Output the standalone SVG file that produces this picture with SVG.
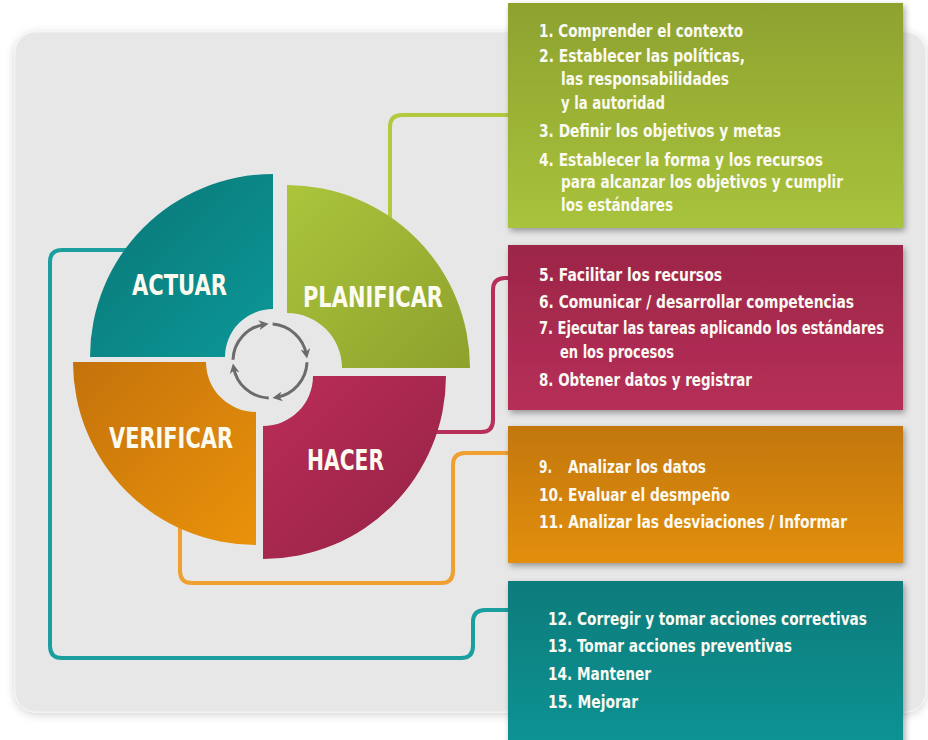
<svg xmlns="http://www.w3.org/2000/svg" width="928" height="740" viewBox="0 0 928 740">
<defs>
<style>
.q{font-family:"Liberation Sans Narrow","DejaVu Sans Condensed","Liberation Sans",sans-serif;font-weight:bold;font-size:29px;fill:#fdfbf0}
.t{font-family:"Liberation Sans Narrow","DejaVu Sans Condensed","Liberation Sans",sans-serif;font-weight:bold;font-size:17px;fill:#fbfaf2}
.c{fill:none;stroke-width:4;stroke-linecap:round;stroke-linejoin:round}
.ic{fill:none;stroke:#6b6b6b;stroke-width:3}
</style>
<filter id="sh" x="-5%" y="-5%" width="112%" height="115%">
<feDropShadow dx="2" dy="3" stdDeviation="3" flood-color="#000" flood-opacity="0.35"/>
</filter>
<filter id="psh" x="-5%" y="-5%" width="110%" height="110%">
<feDropShadow dx="0" dy="2" stdDeviation="5" flood-color="#000" flood-opacity="0.18"/>
</filter>
<linearGradient id="gBox" x1="0" y1="0" x2="0" y2="1"><stop offset="0" stop-color="#8ea22f"/><stop offset="1" stop-color="#a8c33c"/></linearGradient>
<linearGradient id="rBox" x1="0" y1="0" x2="0" y2="1"><stop offset="0" stop-color="#9c2648"/><stop offset="1" stop-color="#b62f58"/></linearGradient>
<linearGradient id="oBox" x1="0" y1="0" x2="0" y2="1"><stop offset="0" stop-color="#c27709"/><stop offset="1" stop-color="#e38f0b"/></linearGradient>
<linearGradient id="tBox" x1="0" y1="0" x2="0" y2="1"><stop offset="0" stop-color="#0b7b7b"/><stop offset="1" stop-color="#119494"/></linearGradient>
<linearGradient id="tQ" x1="0" y1="0" x2="1" y2="1"><stop offset="0" stop-color="#0a7575"/><stop offset="1" stop-color="#0c9898"/></linearGradient>
<linearGradient id="gQ" x1="0" y1="0" x2="1" y2="1"><stop offset="0" stop-color="#abc53c"/><stop offset="1" stop-color="#8da12c"/></linearGradient>
<linearGradient id="oQ" x1="0" y1="0" x2="1" y2="1"><stop offset="0" stop-color="#c4720c"/><stop offset="1" stop-color="#ea920a"/></linearGradient>
<linearGradient id="rQ" x1="0" y1="0" x2="1" y2="1"><stop offset="0" stop-color="#bb2d57"/><stop offset="1" stop-color="#942246"/></linearGradient>
<marker id="ah" viewBox="0 0 10 10" refX="6" refY="5" markerWidth="3.3" markerHeight="3.3" orient="auto" markerUnits="strokeWidth">
<path d="M0,0 L10,5 L0,10 L3,5 z" fill="#6b6b6b"/>
</marker>
</defs>
<rect width="928" height="740" fill="#ffffff"/>
<rect id="panel" x="15" y="32" width="911" height="680" rx="21" fill="#e7e7e7" stroke="#f4f4f4" stroke-width="1" filter="url(#psh)"/>

<g id="connectors">
<path class="c" stroke="#b3ca3f" stroke-width="3" d="M510,115 H402 Q390,115 390,127 V230"/>
<path class="c" stroke="#b8305a" d="M510,278 H505 Q493,278 493,290 V420 Q493,432 481,432 H430"/>
<path class="c" stroke="#efa030" d="M510,453 H465 Q453,453 453,465 V571 Q453,583 441,583 H192 Q180,583 180,571 V520"/>
<path class="c" stroke="#1a9e9e" d="M130,250 H62 Q50,250 50,262 V646 Q50,658 62,658 H461 Q473,658 473,646 V622 Q473,610 485,610 H510"/>
</g>

<g id="actuar">
<path fill="url(#tQ)" d="M90,357 A183,183 0 0 1 273,174 L273,309 A48,48 0 0 0 225,357 Z"/>
<text class="q" x="132" y="295" textLength="95" lengthAdjust="spacingAndGlyphs">ACTUAR</text>
</g>
<g id="planificar">
<path fill="url(#gQ)" d="M287,185 A183,183 0 0 1 470,368 L342,368 A55,55 0 0 0 287,313 Z"/>
<text class="q" x="303" y="307" textLength="140" lengthAdjust="spacingAndGlyphs">PLANIFICAR</text>
</g>
<g id="hacer">
<path fill="url(#rQ)" d="M446,376 A183,183 0 0 1 263,559 L263,426 A50,50 0 0 0 313,376 Z"/>
<text class="q" x="307" y="470" textLength="77" lengthAdjust="spacingAndGlyphs">HACER</text>
</g>
<g id="verificar">
<path fill="url(#oQ)" d="M256,545 A183,183 0 0 1 73,362 L206,362 A50,50 0 0 0 256,412 Z"/>
<text class="q" x="109" y="448" textLength="124" lengthAdjust="spacingAndGlyphs">VERIFICAR</text>
</g>

<g id="cycle-icon">
<path class="ic" marker-end="url(#ah)" d="M233.0,359.7 A37,37 0 0 1 264.8,324.4"/>
<path class="ic" marker-end="url(#ah)" d="M272.6,324.1 A37,37 0 0 1 306.4,354.6"/>
<path class="ic" marker-end="url(#ah)" d="M307.0,362.3 A37,37 0 0 1 276.4,397.4"/>
<path class="ic" marker-end="url(#ah)" d="M268.7,398.0 A37,37 0 0 1 233.6,367.4"/>
</g>

<g id="box-planificar">
<rect x="508" y="3" width="395" height="225" fill="url(#gBox)" filter="url(#sh)"/>
<g transform="scale(0.8,1)">
<text class="t" x="673.75" y="37" textLength="255" lengthAdjust="spacingAndGlyphs">1. Comprender el contexto</text>
<text class="t" x="673.75" y="62" textLength="257.5" lengthAdjust="spacingAndGlyphs">2. Establecer las políticas,</text>
<text class="t" x="701.25" y="85" textLength="210" lengthAdjust="spacingAndGlyphs">las responsabilidades</text>
<text class="t" x="701.25" y="109" textLength="130" lengthAdjust="spacingAndGlyphs">y la autoridad</text>
<text class="t" x="673.75" y="137" textLength="302.5" lengthAdjust="spacingAndGlyphs">3. Definir los objetivos y metas</text>
<text class="t" x="673.75" y="166" textLength="355" lengthAdjust="spacingAndGlyphs">4. Establecer la forma y los recursos</text>
<text class="t" x="701.25" y="188" textLength="352.5" lengthAdjust="spacingAndGlyphs">para alcanzar los objetivos y cumplir</text>
<text class="t" x="701.25" y="211" textLength="140" lengthAdjust="spacingAndGlyphs">los estándares</text>
</g>
</g>

<g id="box-hacer">
<rect x="508" y="245" width="395" height="165" fill="url(#rBox)" filter="url(#sh)"/>
<g transform="scale(0.8,1)">
<text class="t" x="673.75" y="281" textLength="228.75" lengthAdjust="spacingAndGlyphs">5. Facilitar los recursos</text>
<text class="t" x="673.75" y="308" textLength="393.75" lengthAdjust="spacingAndGlyphs">6. Comunicar / desarrollar competencias</text>
<text class="t" x="673.75" y="334" textLength="431.25" lengthAdjust="spacingAndGlyphs">7. Ejecutar las tareas aplicando los estándares</text>
<text class="t" x="700" y="358" textLength="142.5" lengthAdjust="spacingAndGlyphs">en los procesos</text>
<text class="t" x="673.75" y="386" textLength="266.25" lengthAdjust="spacingAndGlyphs">8. Obtener datos y registrar</text>
</g>
</g>

<g id="box-verificar">
<rect x="508" y="426" width="395" height="137" fill="url(#oBox)" filter="url(#sh)"/>
<g transform="scale(0.8,1)">
<text class="t" y="473"><tspan x="673.75">9.</tspan> <tspan x="710" textLength="172.5" lengthAdjust="spacingAndGlyphs">Analizar los datos</tspan></text>
<text class="t" x="673.75" y="501" textLength="238.75" lengthAdjust="spacingAndGlyphs">10. Evaluar el desmpeño</text>
<text class="t" x="673.75" y="528" textLength="385" lengthAdjust="spacingAndGlyphs">11. Analizar las desviaciones / Informar</text>
</g>
</g>

<g id="box-actuar">
<rect x="508" y="581" width="395" height="170" fill="url(#tBox)" filter="url(#sh)"/>
<g transform="scale(0.8,1)">
<text class="t" x="685" y="625" textLength="398.75" lengthAdjust="spacingAndGlyphs">12. Corregir y tomar acciones correctivas</text>
<text class="t" x="685" y="652" textLength="305" lengthAdjust="spacingAndGlyphs">13. Tomar acciones preventivas</text>
<text class="t" x="685" y="680" textLength="128.75" lengthAdjust="spacingAndGlyphs">14. Mantener</text>
<text class="t" x="685" y="708" textLength="112.5" lengthAdjust="spacingAndGlyphs">15. Mejorar</text>
</g>
</g>
</svg>
